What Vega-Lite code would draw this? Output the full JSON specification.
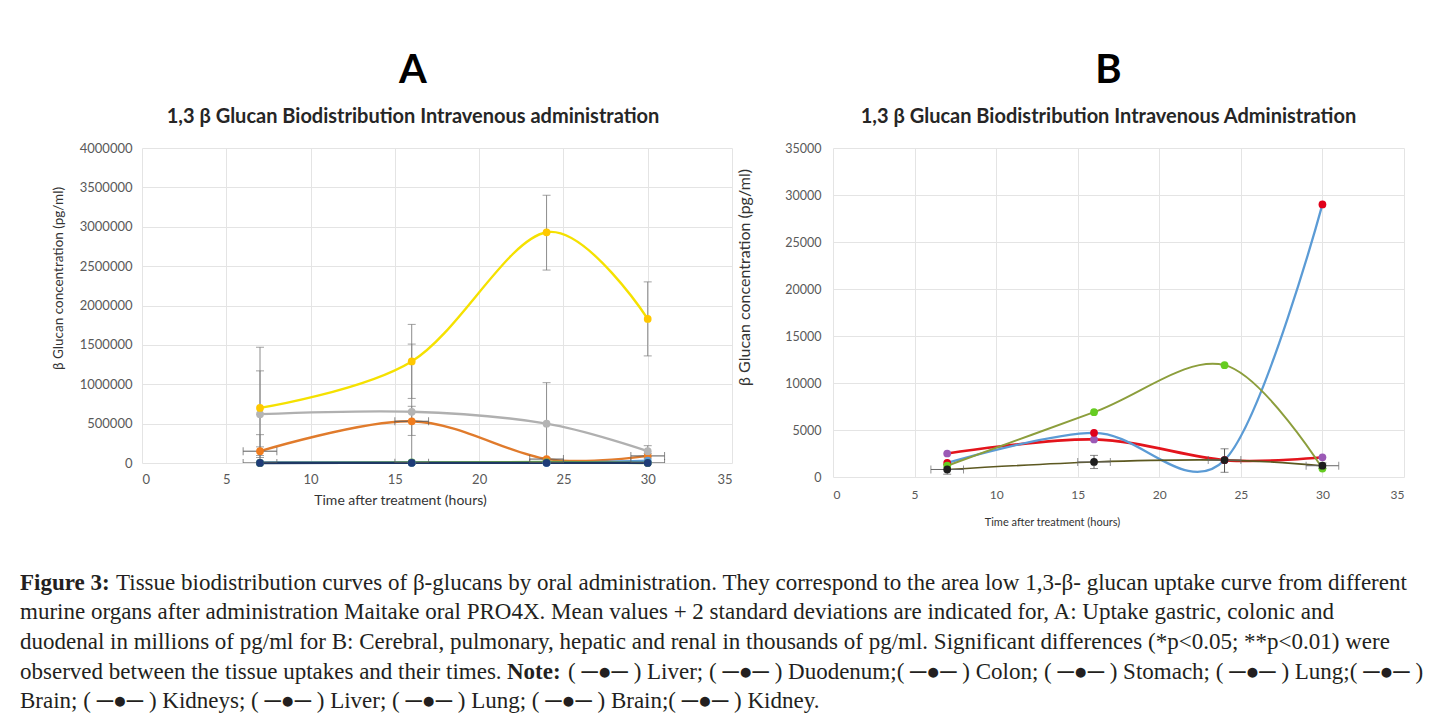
{
  "$schema": "https://vega.github.io/schema/vega-lite/v6.json",
  "background": "white",
  "padding": {"left": 20, "top": 51, "right": 0, "bottom": 0},
  "config": {
    "font": "Lato",
    "view": {"stroke": null},
    "axis": {"grid": true, "gridColor": "#e4e4e4", "domain": false, "ticks": false, "labelOverlap": false, "tickCount": 12, "labelColor": "#595959", "labelFont": "Lato", "titleFont": "Lato", "titleFontWeight": "normal", "titleColor": "#333333"},
    "title": {"font": "Lato", "fontWeight": "bold", "color": "#000000", "subtitleFont": "Lato", "subtitleFontWeight": "bold", "subtitleColor": "#262626"}
  },
  "datasets": {
    "a": [
      {"s": "Liver", "t": 7, "v": 2500}, {"s": "Liver", "t": 16, "v": 4000}, {"s": "Liver", "t": 24, "v": 1800}, {"s": "Liver", "t": 30, "v": 2100},
      {"s": "Duodenum", "t": 7, "v": 150000}, {"s": "Duodenum", "t": 16, "v": 530000}, {"s": "Duodenum", "t": 24, "v": 50000}, {"s": "Duodenum", "t": 30, "v": 90000},
      {"s": "Colon", "t": 7, "v": 620000}, {"s": "Colon", "t": 16, "v": 650000}, {"s": "Colon", "t": 24, "v": 500000}, {"s": "Colon", "t": 30, "v": 150000},
      {"s": "Stomach", "t": 7, "v": 700000}, {"s": "Stomach", "t": 16, "v": 1290000}, {"s": "Stomach", "t": 24, "v": 2930000}, {"s": "Stomach", "t": 30, "v": 1830000},
      {"s": "Lung", "t": 7, "v": 1500}, {"s": "Lung", "t": 16, "v": 4700}, {"s": "Lung", "t": 24, "v": 1800}, {"s": "Lung", "t": 30, "v": 29000},
      {"s": "Brain", "t": 7, "v": 1200}, {"s": "Brain", "t": 16, "v": 6900}, {"s": "Brain", "t": 24, "v": 11900}, {"s": "Brain", "t": 30, "v": 900},
      {"s": "Kidneys", "t": 7, "v": 800}, {"s": "Kidneys", "t": 16, "v": 1600}, {"s": "Kidneys", "t": 24, "v": 1800}, {"s": "Kidneys", "t": 30, "v": 1200}
    ],
    "aey": [
      {"s": "Stomach", "t": 7, "lo": -70000, "hi": 1470000}, {"s": "Stomach", "t": 16, "lo": 820000, "hi": 1760000}, {"s": "Stomach", "t": 24, "lo": 2450000, "hi": 3400000}, {"s": "Stomach", "t": 30, "lo": 1360000, "hi": 2300000},
      {"s": "Colon", "t": 7, "lo": 70000, "hi": 1170000}, {"s": "Colon", "t": 16, "lo": -210000, "hi": 1510000}, {"s": "Colon", "t": 24, "lo": -20000, "hi": 1020000}, {"s": "Colon", "t": 30, "lo": 80000, "hi": 220000},
      {"s": "Duodenum", "t": 7, "lo": 95000, "hi": 205000}, {"s": "Duodenum", "t": 16, "lo": 350000, "hi": 720000}, {"s": "Duodenum", "t": 24, "lo": 30000, "hi": 70000}, {"s": "Duodenum", "t": 30, "lo": 60000, "hi": 120000},
      {"s": "Liver", "t": 7, "lo": -356000, "hi": 360000}
    ],
    "aex": [
      {"s": "Duodenum", "t": 7, "v": 150000, "x1": 6, "x2": 8}, {"s": "Duodenum", "t": 16, "v": 530000, "x1": 15, "x2": 17}, {"s": "Duodenum", "t": 24, "v": 50000, "x1": 23, "x2": 25}, {"s": "Duodenum", "t": 30, "v": 90000, "x1": 29, "x2": 31},
      {"s": "Kidneys", "t": 7, "v": 800, "x1": 6, "x2": 8}, {"s": "Kidneys", "t": 16, "v": 1600, "x1": 15, "x2": 17}, {"s": "Kidneys", "t": 24, "v": 1800, "x1": 23, "x2": 25}, {"s": "Kidneys", "t": 30, "v": 1200, "x1": 29, "x2": 31}
    ],
    "b": [
      {"s": "Liver", "t": 7, "v": 2500}, {"s": "Liver", "t": 16, "v": 4000}, {"s": "Liver", "t": 24, "v": 1800}, {"s": "Liver", "t": 30, "v": 2100},
      {"s": "Lung", "t": 7, "v": 1500}, {"s": "Lung", "t": 16, "v": 4700}, {"s": "Lung", "t": 24, "v": 1800}, {"s": "Lung", "t": 30, "v": 29000},
      {"s": "Brain", "t": 7, "v": 1200}, {"s": "Brain", "t": 16, "v": 6900}, {"s": "Brain", "t": 24, "v": 11900}, {"s": "Brain", "t": 30, "v": 900},
      {"s": "Kidney", "t": 7, "v": 800}, {"s": "Kidney", "t": 16, "v": 1600}, {"s": "Kidney", "t": 24, "v": 1800}, {"s": "Kidney", "t": 30, "v": 1200}
    ],
    "bey": [
      {"s": "Kidney", "t": 7, "lo": 300, "hi": 1300}, {"s": "Kidney", "t": 16, "lo": 900, "hi": 2300}, {"s": "Kidney", "t": 24, "lo": 500, "hi": 3000}, {"s": "Kidney", "t": 30, "lo": 900, "hi": 1500}
    ],
    "bex": [
      {"s": "Kidney", "t": 7, "v": 800, "x1": 6, "x2": 8}, {"s": "Kidney", "t": 16, "v": 1600, "x1": 15, "x2": 17}, {"s": "Kidney", "t": 24, "v": 1800, "x1": 23, "x2": 25}, {"s": "Kidney", "t": 30, "v": 1200, "x1": 29, "x2": 31}
    ],
    "cap": [
      {"ln": 1, "p": "b1", "tx": "Figure 3:"},
      {"ln": 1, "p": "n1", "tx": "Tissue biodistribution curves of β-glucans by oral administration. They correspond to the area low 1,3-β- glucan uptake curve from different"},
      {"ln": 2, "p": "n0", "tx": "murine organs after administration Maitake oral PRO4X. Mean values + 2 standard deviations are indicated for, A: Uptake gastric, colonic and"},
      {"ln": 3, "p": "n0", "tx": "duodenal in millions of pg/ml for B: Cerebral, pulmonary, hepatic and renal in thousands of pg/ml. Significant differences (*p<0.05; **p<0.01) were"},
      {"ln": 4, "p": "n0", "tx": "observed between the tissue uptakes and their times."},
      {"ln": 4, "p": "b2", "tx": "Note:"},
      {"ln": 4, "p": "n4", "tx": "( ─●─ ) Liver; ( ─●─ ) Duodenum;( ─●─ ) Colon; ( ─●─ ) Stomach; ( ─●─ ) Lung;( ─●─ )"},
      {"ln": 5, "p": "n0", "tx": "Brain; ( ─●─ ) Kidneys; ( ─●─ ) Liver; ( ─●─ ) Lung; ( ─●─ ) Brain;( ─●─ ) Kidney."}
    ]
  },
  "vconcat": [
    {
      "hconcat": [
        {
          "width": 590,
          "height": 315,
          "title": {"text": "A", "subtitle": "1,3 β Glucan Biodistribution Intravenous administration", "fontSize": 40, "subtitleFontSize": 20, "subtitlePadding": 16, "offset": 15, "anchor": "middle", "frame": "group", "dx": -24},
          "layer": [
            {
              "data": {"name": "a"},
              "mark": {"type": "line", "interpolate": "cardinal", "strokeWidth": 2.4},
              "encoding": {
                "x": {"field": "t", "type": "quantitative", "title": "Time after treatment (hours)", "scale": {"domain": [0, 35], "nice": false}, "axis": {"values": [0, 5, 10, 15, 20, 25, 30, 35], "labelFontSize": 13, "labelPadding": 10, "titleFontSize": 14, "titlePadding": 7, "titleX": 258}},
                "y": {"field": "v", "type": "quantitative", "scale": {"domain": [0, 4000000], "nice": false}, "axis": {"title": "β Glucan concentration (pg/ml)", "values": [0, 500000, 1000000, 1500000, 2000000, 2500000, 3000000, 3500000, 4000000], "tickCount": 12, "format": "d", "labelFontSize": 13, "labelPadding": 10, "titleFontSize": 13.5, "titlePadding": 14, "titleY": 130}},
                "stroke": {"field": "s", "type": "nominal", "legend": null, "scale": {"domain": ["Liver", "Duodenum", "Colon", "Stomach", "Lung", "Brain", "Kidneys"], "range": ["#4472C4", "#E07B2C", "#B0B0B0", "#F5E100", "#5B9BD5", "#70AD47", "#1F3864"]}}
              }
            },
            {
              "data": {"name": "aey"},
              "mark": {"type": "rule", "color": "#8c8c8c", "strokeWidth": 1, "clip": true},
              "encoding": {
                "x": {"field": "t", "type": "quantitative", "title": "Time after treatment (hours)"},
                "y": {"field": "lo", "type": "quantitative", "axis": {"title": "β Glucan concentration (pg/ml)", "values": [0, 500000, 1000000, 1500000, 2000000, 2500000, 3000000, 3500000, 4000000], "tickCount": 12, "format": "d", "labelFontSize": 13, "labelPadding": 10, "titleFontSize": 13.5, "titlePadding": 14, "titleY": 130}},
                "y2": {"field": "hi"}
              }
            },
            {
              "data": {"name": "aey"},
              "mark": {"type": "tick", "orient": "horizontal", "size": 8, "thickness": 1, "color": "#7a7a7a", "clip": true},
              "encoding": {
                "x": {"field": "t", "type": "quantitative", "title": "Time after treatment (hours)"},
                "y": {"field": "lo", "type": "quantitative", "axis": {"title": "β Glucan concentration (pg/ml)", "values": [0, 500000, 1000000, 1500000, 2000000, 2500000, 3000000, 3500000, 4000000], "tickCount": 12, "format": "d", "labelFontSize": 13, "labelPadding": 10, "titleFontSize": 13.5, "titlePadding": 14, "titleY": 130}}
              }
            },
            {
              "data": {"name": "aey"},
              "mark": {"type": "tick", "orient": "horizontal", "size": 8, "thickness": 1, "color": "#7a7a7a", "clip": true},
              "encoding": {
                "x": {"field": "t", "type": "quantitative", "title": "Time after treatment (hours)"},
                "y": {"field": "hi", "type": "quantitative", "axis": {"title": "β Glucan concentration (pg/ml)", "values": [0, 500000, 1000000, 1500000, 2000000, 2500000, 3000000, 3500000, 4000000], "tickCount": 12, "format": "d", "labelFontSize": 13, "labelPadding": 10, "titleFontSize": 13.5, "titlePadding": 14, "titleY": 130}}
              }
            },
            {
              "data": {"name": "aex"},
              "mark": {"type": "rule", "color": "#5a5a5a", "strokeWidth": 1, "clip": true},
              "encoding": {
                "x": {"field": "x1", "type": "quantitative", "title": "Time after treatment (hours)"},
                "x2": {"field": "x2"},
                "y": {"field": "v", "type": "quantitative", "axis": {"title": "β Glucan concentration (pg/ml)", "values": [0, 500000, 1000000, 1500000, 2000000, 2500000, 3000000, 3500000, 4000000], "tickCount": 12, "format": "d", "labelFontSize": 13, "labelPadding": 10, "titleFontSize": 13.5, "titlePadding": 14, "titleY": 130}}
              }
            },
            {
              "data": {"name": "aex"},
              "mark": {"type": "tick", "orient": "vertical", "size": 8, "thickness": 1, "color": "#5a5a5a", "clip": true},
              "encoding": {
                "x": {"field": "x1", "type": "quantitative", "title": "Time after treatment (hours)"},
                "y": {"field": "v", "type": "quantitative", "axis": {"title": "β Glucan concentration (pg/ml)", "values": [0, 500000, 1000000, 1500000, 2000000, 2500000, 3000000, 3500000, 4000000], "tickCount": 12, "format": "d", "labelFontSize": 13, "labelPadding": 10, "titleFontSize": 13.5, "titlePadding": 14, "titleY": 130}}
              }
            },
            {
              "data": {"name": "aex"},
              "mark": {"type": "tick", "orient": "vertical", "size": 8, "thickness": 1, "color": "#5a5a5a", "clip": true},
              "encoding": {
                "x": {"field": "x2", "type": "quantitative", "title": "Time after treatment (hours)"},
                "y": {"field": "v", "type": "quantitative", "axis": {"title": "β Glucan concentration (pg/ml)", "values": [0, 500000, 1000000, 1500000, 2000000, 2500000, 3000000, 3500000, 4000000], "tickCount": 12, "format": "d", "labelFontSize": 13, "labelPadding": 10, "titleFontSize": 13.5, "titlePadding": 14, "titleY": 130}}
              }
            },
            {
              "data": {"name": "a"},
              "mark": {"type": "circle", "size": 60, "opacity": 1},
              "encoding": {
                "x": {"field": "t", "type": "quantitative", "title": "Time after treatment (hours)"},
                "y": {"field": "v", "type": "quantitative", "axis": {"title": "β Glucan concentration (pg/ml)", "values": [0, 500000, 1000000, 1500000, 2000000, 2500000, 3000000, 3500000, 4000000], "tickCount": 12, "format": "d", "labelFontSize": 13, "labelPadding": 10, "titleFontSize": 13.5, "titlePadding": 14, "titleY": 130}},
                "fill": {"field": "s", "type": "nominal", "legend": null, "scale": {"domain": ["Liver", "Duodenum", "Colon", "Stomach", "Lung", "Brain", "Kidneys"], "range": ["#4472C4", "#F07C1E", "#B4B4B4", "#FFC800", "#5B9BD5", "#70AD47", "#1F3C78"]}}
              }
            }
          ]
        },
        {
          "width": 571,
          "height": 329,
          "title": {"text": "B", "subtitle": "1,3 β Glucan Biodistribution Intravenous Administration", "fontSize": 40, "subtitleFontSize": 20, "subtitlePadding": 16, "offset": 15, "anchor": "middle", "frame": "group", "dx": -10},
          "layer": [
            {
              "data": {"name": "b"},
              "mark": {"type": "line", "interpolate": "cardinal"},
              "encoding": {
                "x": {"field": "t", "type": "quantitative", "title": "Time after treatment (hours)", "scale": {"domain": [0, 35], "nice": false}, "axis": {"values": [0, 5, 10, 15, 20, 25, 30, 35], "labelFontSize": 12, "labelPadding": 12, "titleFontSize": 11, "titlePadding": 16, "titleX": 219}},
                "y": {"field": "v", "type": "quantitative", "title": "β Glucan concentration (pg/ml)", "scale": {"domain": [0, 35000], "nice": false}, "axis": {"values": [0, 5000, 10000, 15000, 20000, 25000, 30000, 35000], "tickCount": 12, "format": "d", "labelFontSize": 12.5, "labelPadding": 12, "titleFontSize": 16, "titlePadding": 32, "titleY": 129}},
                "stroke": {"field": "s", "type": "nominal", "legend": null, "scale": {"domain": ["Liver", "Lung", "Brain", "Kidney"], "range": ["#E3141C", "#5B9BD5", "#8C9E3C", "#5C5820"]}},
                "strokeWidth": {"field": "s", "type": "nominal", "legend": null, "scale": {"domain": ["Liver", "Lung", "Brain", "Kidney"], "range": [2.6, 1.6, 1.8, 2]}}
              }
            },
            {
              "data": {"name": "bey"},
              "mark": {"type": "rule", "color": "#555555", "strokeWidth": 1, "clip": true},
              "encoding": {
                "x": {"field": "t", "type": "quantitative", "title": "Time after treatment (hours)"},
                "y": {"field": "lo", "type": "quantitative", "title": "β Glucan concentration (pg/ml)"},
                "y2": {"field": "hi"}
              }
            },
            {
              "data": {"name": "bey"},
              "mark": {"type": "tick", "orient": "horizontal", "size": 8, "thickness": 1, "color": "#555555", "clip": true},
              "encoding": {
                "x": {"field": "t", "type": "quantitative", "title": "Time after treatment (hours)"},
                "y": {"field": "lo", "type": "quantitative", "title": "β Glucan concentration (pg/ml)"}
              }
            },
            {
              "data": {"name": "bey"},
              "mark": {"type": "tick", "orient": "horizontal", "size": 8, "thickness": 1, "color": "#555555", "clip": true},
              "encoding": {
                "x": {"field": "t", "type": "quantitative", "title": "Time after treatment (hours)"},
                "y": {"field": "hi", "type": "quantitative", "title": "β Glucan concentration (pg/ml)"}
              }
            },
            {
              "data": {"name": "bex"},
              "mark": {"type": "rule", "color": "#666666", "strokeWidth": 1, "clip": true},
              "encoding": {
                "x": {"field": "x1", "type": "quantitative", "title": "Time after treatment (hours)"},
                "x2": {"field": "x2"},
                "y": {"field": "v", "type": "quantitative", "title": "β Glucan concentration (pg/ml)"}
              }
            },
            {
              "data": {"name": "bex"},
              "mark": {"type": "tick", "orient": "vertical", "size": 8, "thickness": 1, "color": "#666666", "clip": true},
              "encoding": {
                "x": {"field": "x1", "type": "quantitative", "title": "Time after treatment (hours)"},
                "y": {"field": "v", "type": "quantitative", "title": "β Glucan concentration (pg/ml)"}
              }
            },
            {
              "data": {"name": "bex"},
              "mark": {"type": "tick", "orient": "vertical", "size": 8, "thickness": 1, "color": "#666666", "clip": true},
              "encoding": {
                "x": {"field": "x2", "type": "quantitative", "title": "Time after treatment (hours)"},
                "y": {"field": "v", "type": "quantitative", "title": "β Glucan concentration (pg/ml)"}
              }
            },
            {
              "data": {"name": "b"},
              "mark": {"type": "circle", "size": 60, "opacity": 1},
              "encoding": {
                "x": {"field": "t", "type": "quantitative", "title": "Time after treatment (hours)"},
                "y": {"field": "v", "type": "quantitative", "title": "β Glucan concentration (pg/ml)"},
                "fill": {"field": "s", "type": "nominal", "legend": null, "scale": {"domain": ["Liver", "Lung", "Brain", "Kidney"], "range": ["#9B59B6", "#E0001A", "#66CC22", "#1E1E1E"]}}
              }
            }
          ]
        }
      ],
      "spacing": 4,
      "resolve": {"scale": {"stroke": "independent", "fill": "independent", "strokeWidth": "independent"}}
    },
    {
      "width": 1000,
      "height": 148,
      "data": {"name": "cap"},
      "encoding": {
        "x": {"value": 0},
        "y": {"field": "ln", "type": "ordinal", "axis": null, "scale": {"type": "point", "padding": 0.5}},
        "text": {"field": "tx"}
      },
      "layer": [
        {"transform": [{"filter": "datum.p == 'n0'"}], "mark": {"type": "text", "align": "left", "baseline": "middle", "font": "Liberation Serif", "fontSize": 23, "color": "#231f20", "dx": -122}},
        {"transform": [{"filter": "datum.p == 'b1'"}], "mark": {"type": "text", "align": "left", "baseline": "middle", "font": "Liberation Serif", "fontSize": 23, "fontWeight": "bold", "color": "#231f20", "dx": -122}},
        {"transform": [{"filter": "datum.p == 'n1'"}], "mark": {"type": "text", "align": "left", "baseline": "middle", "font": "Liberation Serif", "fontSize": 23, "color": "#231f20", "dx": -26}},
        {"transform": [{"filter": "datum.p == 'b2'"}], "mark": {"type": "text", "align": "left", "baseline": "middle", "font": "Liberation Serif", "fontSize": 23, "fontWeight": "bold", "color": "#231f20", "dx": 365}},
        {"transform": [{"filter": "datum.p == 'n4'"}], "mark": {"type": "text", "align": "left", "baseline": "middle", "font": "Liberation Serif", "fontSize": 23, "color": "#231f20", "dx": 426}}
      ]
    }
  ],
  "spacing": 41
}
